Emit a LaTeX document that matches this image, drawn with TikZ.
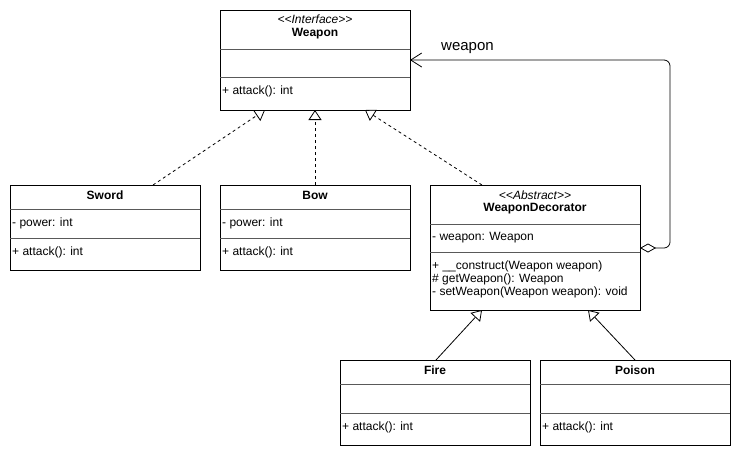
\documentclass[tikz,border=0pt]{standalone}
\usepackage{fontspec}
\setmainfont{Liberation Sans}
\usetikzlibrary{arrows.meta}
\begin{document}
\begin{tikzpicture}[x=1pt,y=-1pt,
  cls/.style={draw=black, line width=1pt, fill=white, anchor=north west, inner sep=0pt, outer sep=0pt},
  sep/.style={draw=black!65, line width=0.8pt},
  txt/.style={anchor=west, inner sep=0pt, font=\fontsize{12}{14}\selectfont},
  ttl/.style={inner sep=0pt, font=\fontsize{12}{14}\selectfont\bfseries},
  ster/.style={inner sep=0pt, font=\fontsize{12}{14}\selectfont\itshape},
  realize/.style={dash pattern=on 3pt off 3pt, line width=0.8pt, -{Triangle[open,length=10pt,width=13pt,fill=white]}},
  gen/.style={line width=0.8pt, -{Triangle[open,length=10pt,width=13pt,fill=white]}},
  assoc/.style={line width=0.8pt, rounded corners=6pt, {Diamond[open,length=16pt,width=9pt,fill=white]}-{Straight Barb[length=11pt,width=14pt]}},
  lbl/.style={inner sep=0pt, font=\fontsize{15}{18}\selectfont},
]
\fill[white] (0,0) rectangle (741,456);
\useasboundingbox (0,0) rectangle (741,456);

% Weapon
\node[cls, minimum width=190pt, minimum height=100pt] (weapon) at (220,10) {};
\draw[sep] (220,49) -- (410,49);
\draw[sep] (220,77) -- (410,77);
\node[ster] (weaponst) at (315,19) {<{}<Interface>{}>};
\node[ttl] (weaponnm) at (315,34) {Weapon};
\node[txt] (weaponm1) at (222,91) {+ attack(): int};

% Sword
\node[cls, minimum width=190pt, minimum height=85pt] (sword) at (10,185) {};
\draw[sep] (10,209) -- (200,209);
\draw[sep] (10,238) -- (200,238);
\node[ttl] (swordnm) at (105,195) {Sword};
\node[txt] (sworda1) at (12,223) {- power: int};
\node[txt] (swordm1) at (12,252) {+ attack(): int};

% Bow
\node[cls, minimum width=190pt, minimum height=85pt] (bow) at (220,185) {};
\draw[sep] (220,209) -- (410,209);
\draw[sep] (220,238) -- (410,238);
\node[ttl] (bownm) at (315,195) {Bow};
\node[txt] (bowa1) at (222,223) {- power: int};
\node[txt] (bowm1) at (222,252) {+ attack(): int};

% WeaponDecorator
\node[cls, minimum width=210pt, minimum height=125pt] (wd) at (430,185) {};
\draw[sep] (430,224) -- (640,224);
\draw[sep] (430,252) -- (640,252);
\node[ster] (wdst) at (535,195) {<{}<Abstract>{}>};
\node[ttl] (wdnm) at (535,209) {WeaponDecorator};
\node[txt] (wda1) at (432,238) {- weapon: Weapon};
\node[txt] (wdm1) at (432,266) {+ \_\_construct(Weapon weapon)};
\node[txt] (wdm2) at (432,279) {\# getWeapon(): Weapon};
\node[txt] (wdm3) at (432,292) {- setWeapon(Weapon weapon): void};

% Fire
\node[cls, minimum width=190pt, minimum height=85pt] (fire) at (340,360) {};
\draw[sep] (340,384) -- (530,384);
\draw[sep] (340,413) -- (530,413);
\node[ttl] (firenm) at (435,370) {Fire};
\node[txt] (firem1) at (342,427) {+ attack(): int};

% Poison
\node[cls, minimum width=190pt, minimum height=85pt] (poison) at (540,360) {};
\draw[sep] (540,384) -- (730,384);
\draw[sep] (540,413) -- (730,413);
\node[ttl] (poisonnm) at (635,370) {Poison};
\node[txt] (poisonm1) at (542,427) {+ attack(): int};

% connectors
\draw[realize] ([xshift=143pt]sword.north west) -- ([xshift=45pt]weapon.south west);
\draw[realize] (bow.north) -- (weapon.south);
\draw[realize] ([xshift=52pt]wd.north west) -- ([xshift=145pt]weapon.south west);
\draw[gen] ([xshift=96pt]fire.north west) -- ([xshift=52pt]wd.south west);
\draw[gen] ([xshift=95pt]poison.north west) -- ([xshift=158pt]wd.south west);

\coordinate (bend) at (670,60);
\draw[assoc] ([yshift=-63pt]wd.north east) -| (bend) -- ([yshift=-50pt]weapon.north east);
\node[lbl, anchor=west] (assoclbl) at (441,48) {weapon};
\end{tikzpicture}
\end{document}
